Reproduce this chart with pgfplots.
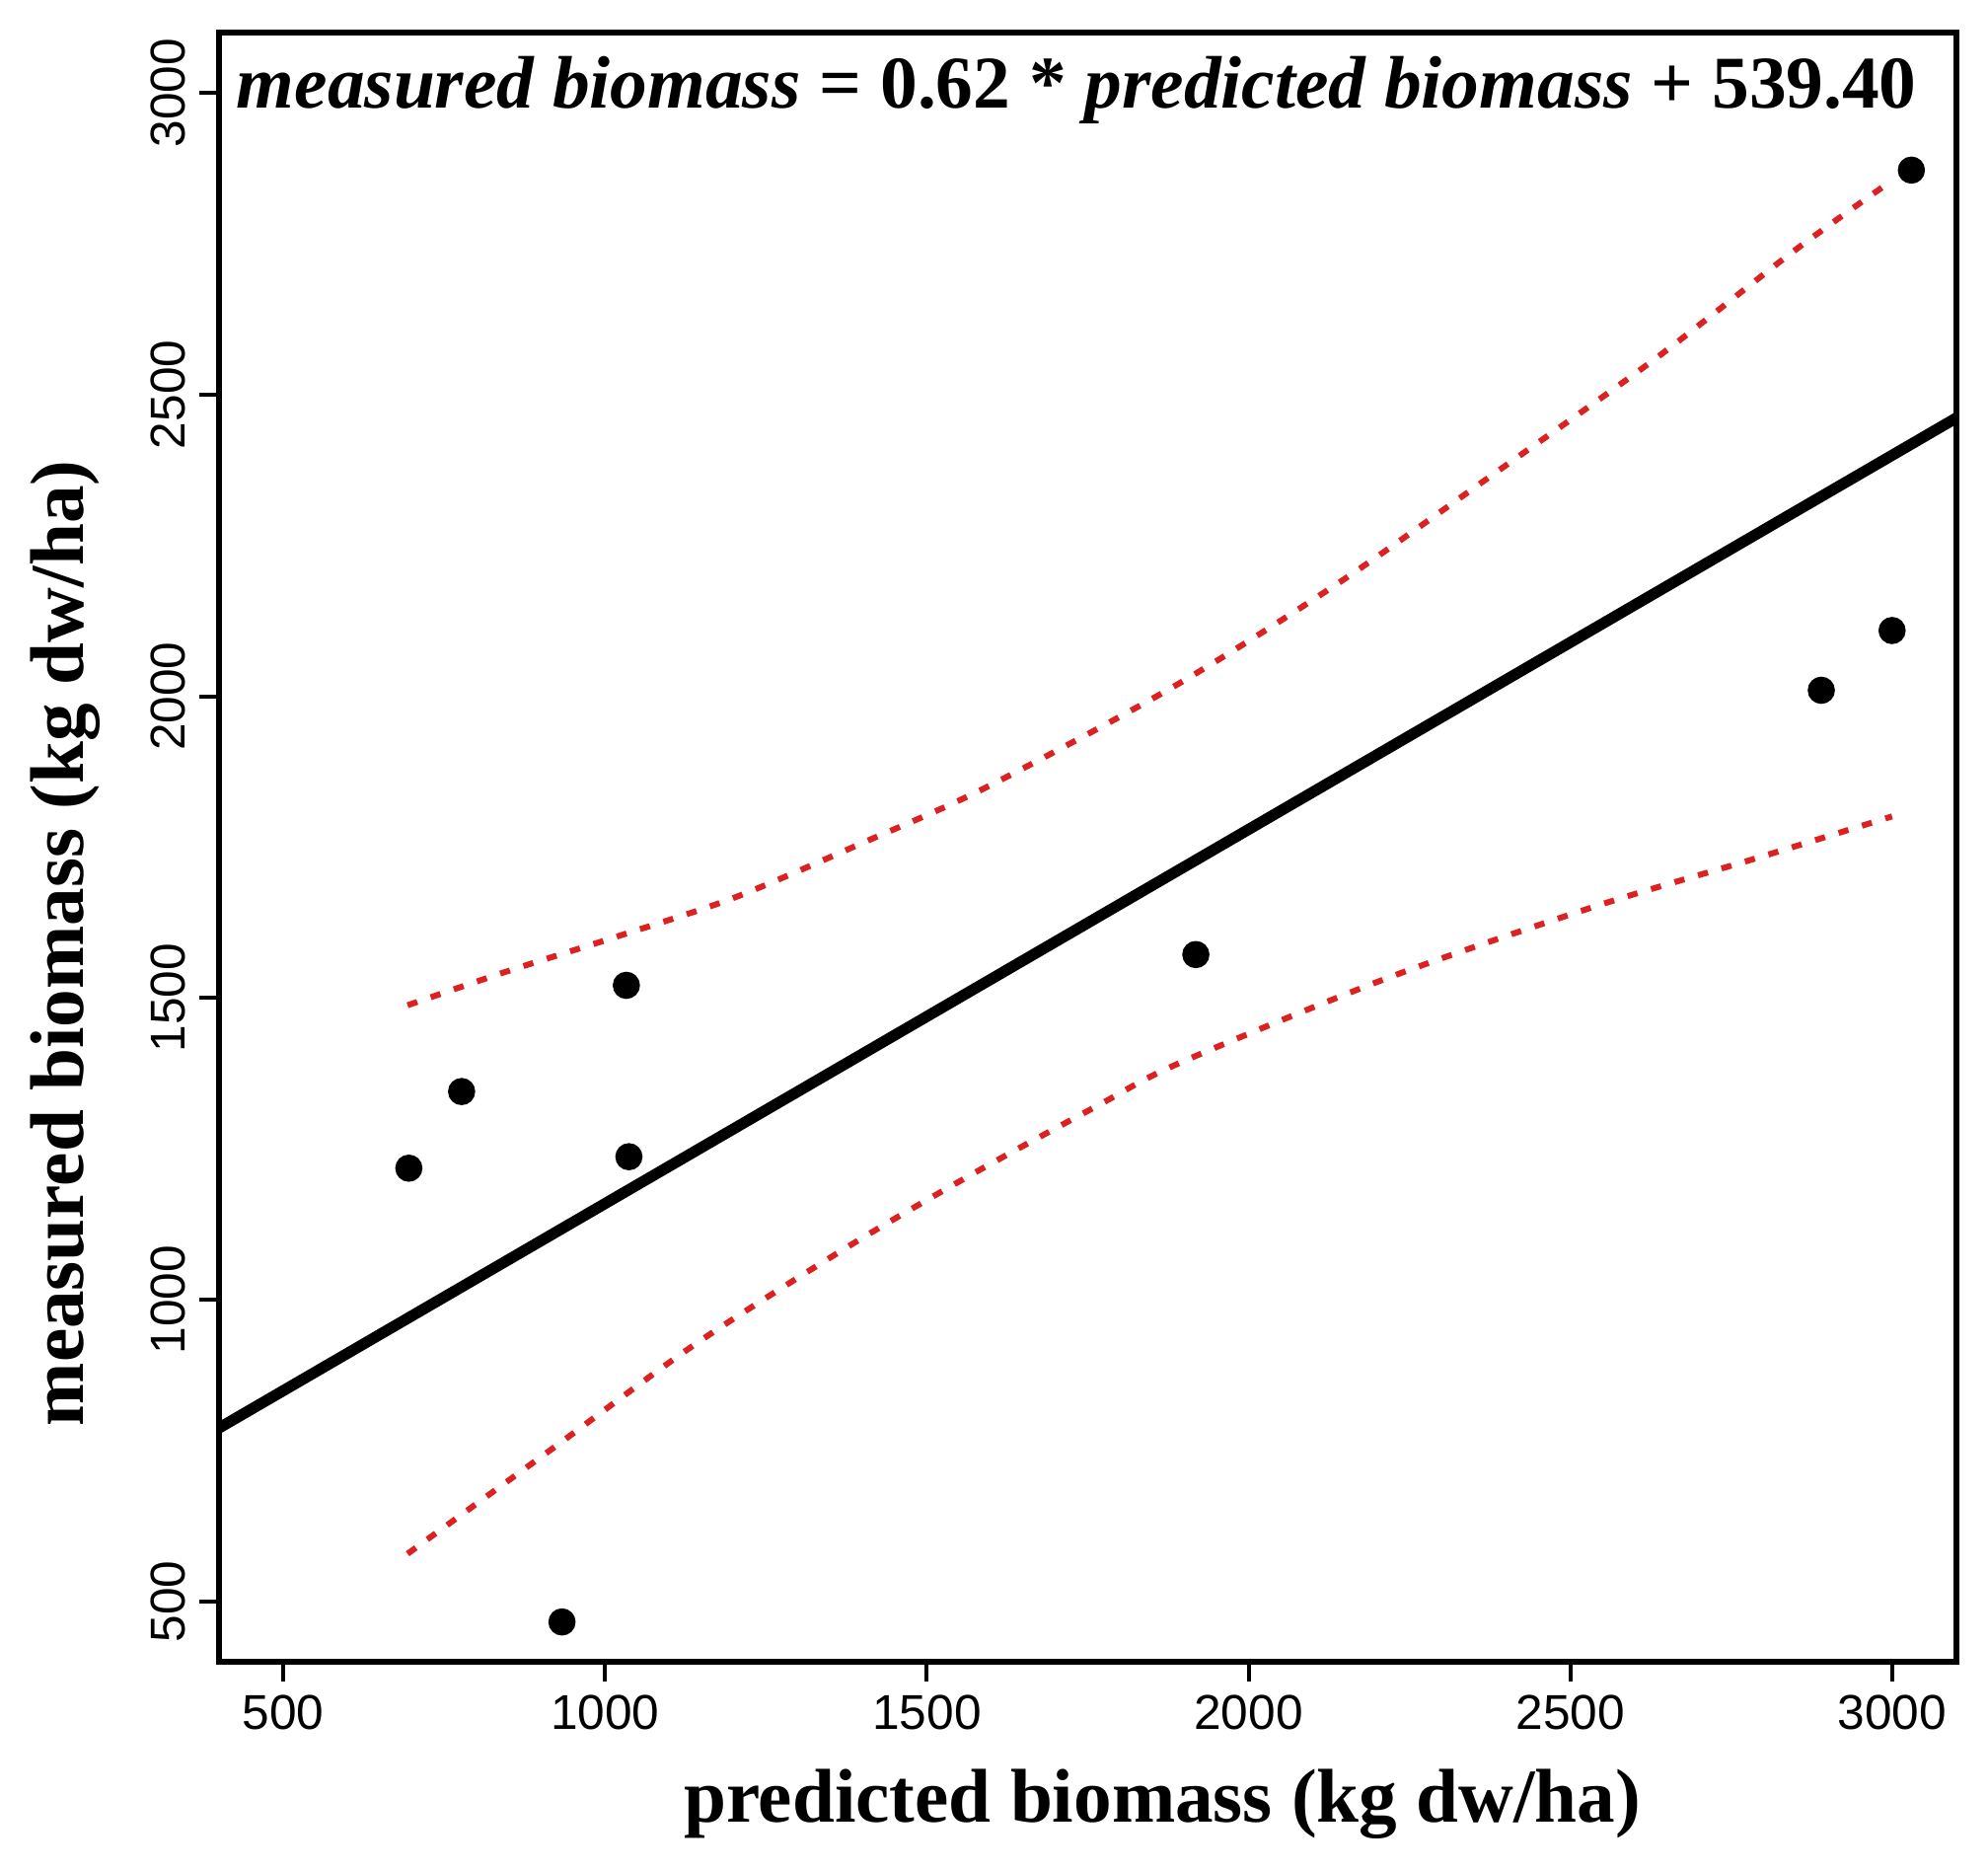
\documentclass[border=0pt]{standalone}
\usepackage{fontspec}
\setmainfont{Liberation Serif}
\newfontfamily\arialfont{Liberation Sans}
\usepackage{pgfplots}
\pgfplotsset{compat=1.18}
\definecolor{bandred}{RGB}{221,32,32}
\begin{document}
\begin{tikzpicture}
\useasboundingbox (-55.5pt,-52.75pt) rectangle (448.25pt,421pt);
\begin{axis}[
  scale only axis,
  width=440.25pt, height=412.75pt,
  xmin=400, xmax=3100, ymin=400, ymax=3100,
  xtick={500,1000,1500,2000,2500,3000},
  ytick={500,1000,1500,2000,2500,3000},
  scaled ticks=false,
  /pgf/number format/1000 sep={},
  /pgf/number format/assume math mode=true,
  tick pos=left,
  tick align=outside,
  major tick length=5pt,
  tick style={line width=1pt, black},
  axis line style={line width=1.4pt},
  ticklabel style={font=\arialfont\fontsize{12.4}{14}\selectfont},
  xticklabel style={anchor=north},
  yticklabel style={rotate=90, anchor=south},
  xlabel={predicted biomass (kg dw/ha)},
  ylabel={measured biomass (kg dw/ha)},
  label style={font=\bfseries\fontsize{19.3}{21}\selectfont},
  xlabel style={at={(axis description cs:0.543,-0.0987)}, anchor=base},
  ylabel style={at={(axis description cs:-0.0778,0.441)}, anchor=base, rotate=0},
  clip=true,
]
% regression line
\addplot[black, line width=2.8pt] coordinates {(400,787.4) (3100,2461.4)};
% upper confidence band
\addplot[bandred, line width=1.5pt, dash pattern=on 2.6pt off 3.6pt, smooth] coordinates {
(693,1488) (850,1545) (1016,1601) (1200,1666) (1400,1757) (1592,1849)
(1885,2017) (2140,2188) (2375,2364) (2629,2557) (2845,2736) (3000,2855)};
% lower confidence band
\addplot[bandred, line width=1.5pt, dash pattern=on 2.6pt off 3.6pt, smooth] coordinates {
(693,579) (919,754) (1141,927) (1376,1087) (1572,1209) (1766,1322)
(1892,1392) (2218,1534) (2539,1652) (2790,1732) (3000,1801)};
% observations
\addplot[only marks, mark=*, mark size=3.25pt, black] coordinates {
(695,1218) (777,1345) (933,466) (1033,1521) (1037,1237)
(1918,1572) (2890,2010) (3000,2109) (3030,2872)};
\node[anchor=base west, inner sep=0pt, font=\bfseries\fontsize{18.85}{20}\selectfont]
  at (rel axis cs:0.0097,0.9534)
  {\itshape measured biomass\/\upshape{} = 0.62 * \itshape predicted biomass\/\upshape{} + 539.40};
\end{axis}
\end{tikzpicture}
\end{document}
